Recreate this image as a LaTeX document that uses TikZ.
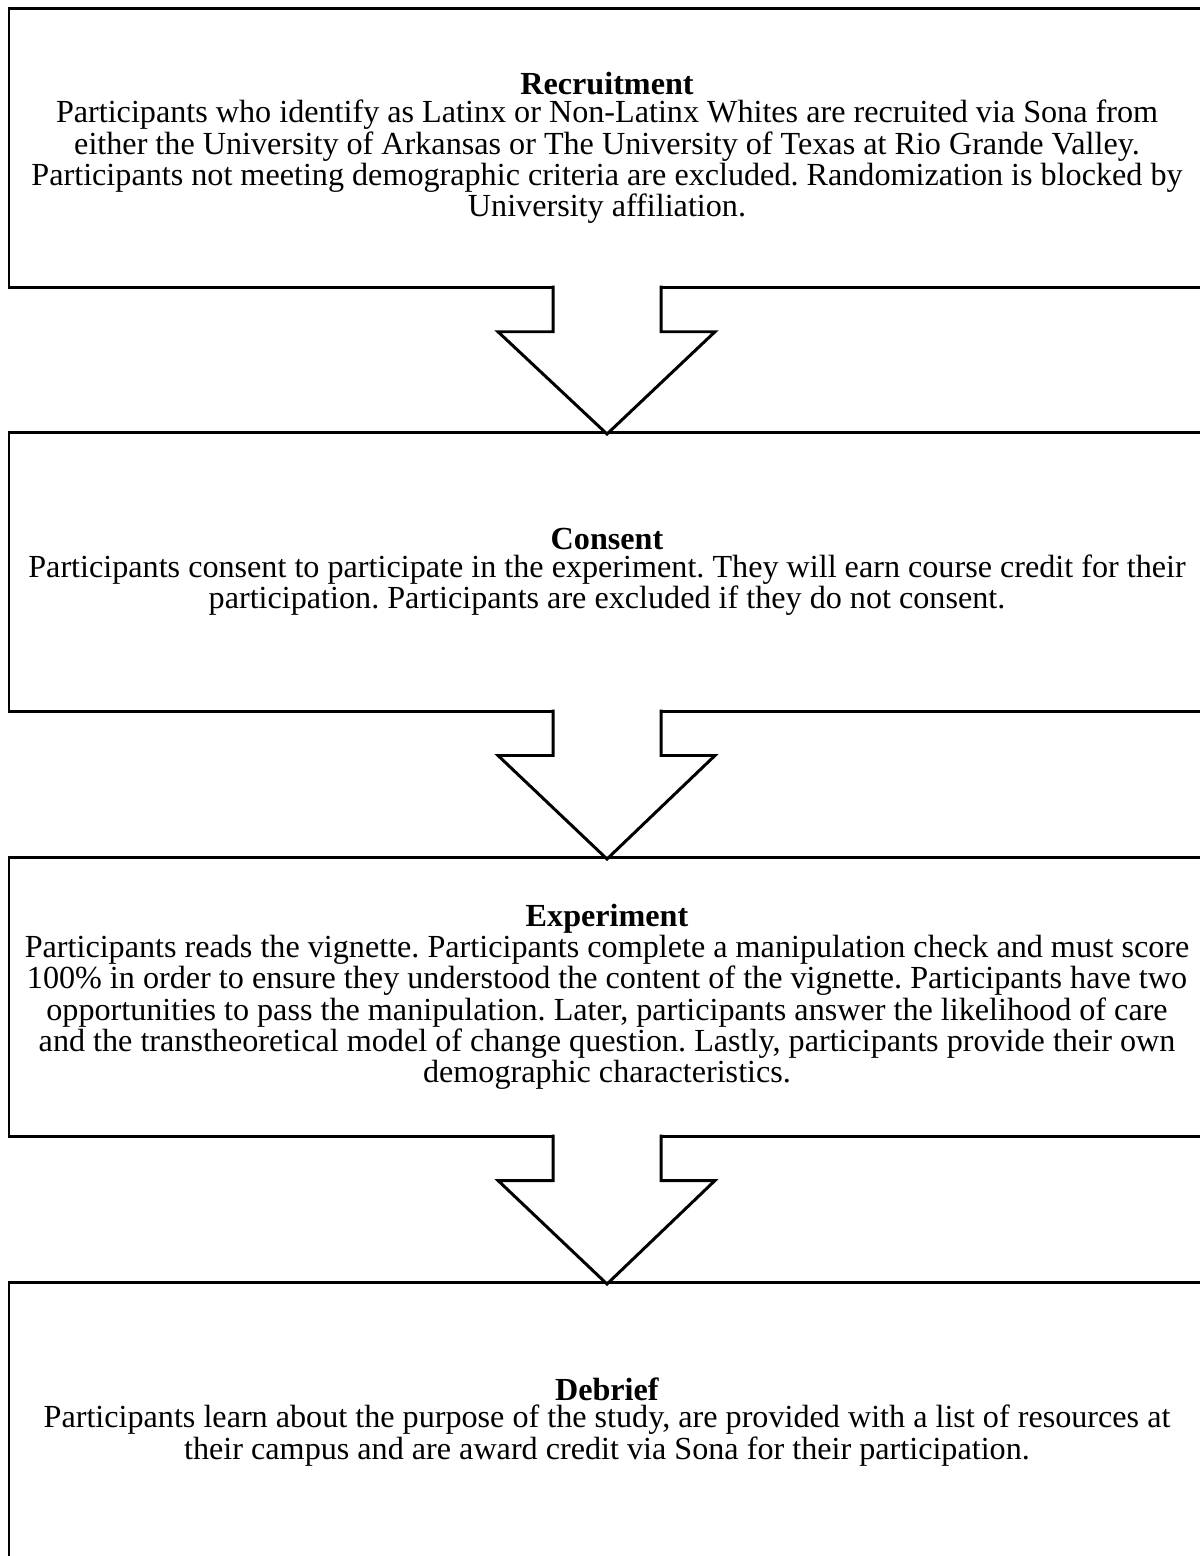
\documentclass[tikz,border=0pt]{standalone}
\usepackage{fontspec}
\setmainfont{Liberation Serif}
\usetikzlibrary{calc}
\frenchspacing
\tikzset{
    stage/.style={draw, rectangle, line width=1.7pt, minimum width=23.92cm, minimum height=5.57cm, inner sep=0pt, align=center, font=\fontsize{18.3}{15.9}\selectfont},
    blockarr/.style={draw, fill=white, line width=1.7pt, line join=miter}
}
\begin{document}
\begin{tikzpicture}
        \useasboundingbox (0,0) rectangle (24,-31.12);

        % The four stages
        \node [stage] (recruit) at (12.14,-2.96) {\textbf{Recruitment}\\
            Participants who identify as Latinx or Non-Latinx Whites are recruited via Sona from\\
            either the University of Arkansas or The University of Texas at Rio Grande Valley.\\
            Participants not meeting demographic criteria are excluded. Randomization is blocked by\\
            University affiliation.};
        \node [stage] (consent) at (12.14,-11.435) {\textbf{Consent}\\
            Participants consent to participate in the experiment. They will earn course credit for their\\
            participation. Participants are excluded if they do not consent.};
        \node [stage] (experiment) at (12.14,-19.935) {\textbf{Experiment}\\
            Participants reads the vignette. Participants complete a manipulation check and must score\\
            100\% in order to ensure they understood the content of the vignette. Participants have two\\
            opportunities to pass the manipulation. Later, participants answer the likelihood of care\\
            and the transtheoretical model of change question. Lastly, participants provide their own\\
            demographic characteristics.};
        \node [stage] (debrief) at (12.14,-28.435) {\textbf{Debrief}\\
            Participants learn about the purpose of the study, are provided with a list of resources at\\
            their campus and are award credit via Sona for their participation.};

        % Block arrows between stages
        \foreach \a/\b in {recruit/consent, consent/experiment, experiment/debrief} {
            \draw [blockarr] ($(\a.south)+(-1.08,0.06)$) -- ($(\a.south)+(-1.08,-0.86)$)
                -- ($(\a.south)+(-2.18,-0.86)$) -- ($(\b.north)+(0,-0.06)$)
                -- ($(\a.south)+(2.16,-0.86)$) -- ($(\a.south)+(1.08,-0.86)$)
                -- ($(\a.south)+(1.08,0.06)$);
        }
    \end{tikzpicture}
\end{document}
